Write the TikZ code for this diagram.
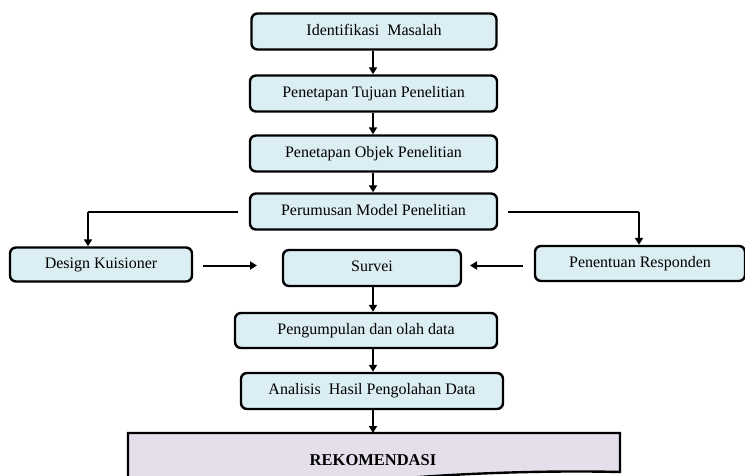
\documentclass[tikz,border=0pt]{standalone}
\usepackage{fontspec}
\setmainfont{Liberation Serif}
\usetikzlibrary{arrows.meta}
\definecolor{boxfill}{HTML}{DAEEF3}
\definecolor{recfill}{HTML}{E5DFEC}
\begin{document}
\begin{tikzpicture}[x=1pt,y=-1pt,
  box/.style={draw=black,line width=2.4pt,rounded corners=6pt,fill=boxfill,
    minimum height=36pt,inner sep=0pt,text height=10.5pt,text depth=3pt,
    font=\fontsize{16}{18}\selectfont},
  arr/.style={line width=2pt,-{Triangle[length=7pt,width=8pt]}},
  ln/.style={line width=2pt}]
\clip (0,0) rectangle (745,476);
\useasboundingbox (0,0) rectangle (745,476);
\node[box,minimum width=245pt] (b1) at (374,31.5) {Identifikasi\ \ Masalah};
\node[box,minimum width=247pt] (b2) at (373.5,93.5) {Penetapan Tujuan Penelitian};
\node[box,minimum width=247pt] (b3) at (373.5,153.5) {Penetapan Objek Penelitian};
\node[box,minimum width=247pt] (b4) at (373.5,211.5) {Perumusan Model Penelitian};
\node[box,minimum width=182pt,minimum height=34pt] (dk) at (101,264.5) {Design Kuisioner};
\node[box,minimum width=178pt] (sv) at (372,268) {Survei};
\node[box,minimum width=210pt,minimum height=35pt] (pr) at (640,263.5) {Penentuan Responden};
\node[box,minimum width=262pt,minimum height=35pt] (pg) at (366,330.5) {Pengumpulan dan olah data};
\node[box,minimum width=262pt] (an) at (372,391) {Analisis\ \ Hasil Pengolahan Data};
\path[draw=black,line width=2.4pt,fill=recfill]
  (128,433) -- (620,433) -- (620,472)
  .. controls (540,470) and (440,474) .. (374,481)
  .. controls (300,488) and (200,492) .. (128,488) -- cycle;
\node[font=\fontsize{16.5}{18}\selectfont\bfseries] (rek) at (373,460) {REKOMENDASI};
\coordinate (rekt) at (373,433);
% vertical chain
\coordinate (c1) at (373,0);
\draw[arr] (b1.south -| c1) -- (b2.north -| c1);
\draw[arr] (b2.south -| c1) -- (b3.north -| c1);
\draw[arr] (b3.south -| c1) -- (b4.north -| c1);
\draw[arr] (sv.south -| c1) -- (pg.north -| c1);
\draw[arr] (pg.south -| c1) -- (an.north -| c1);
\draw[arr] (an.south -| c1) -- (rekt);
% side branches
\coordinate (l1) at (238,212);
\coordinate (l2) at (88,212);
\coordinate (r1) at (508,212);
\coordinate (r2) at (639,212);
\draw[ln] (l1) -- (l2);
\draw[arr] (l2) -- (l2 |- dk.north);
\draw[ln] (r1) -- (r2);
\draw[arr] (r2) -- (r2 |- pr.north);
\coordinate (d1) at (203,265.5);
\coordinate (d2) at (257,265.5);
\draw[arr] (d1) -- (d2);
\coordinate (p1) at (523,265.5);
\coordinate (p2) at (470,265.5);
\draw[arr] (p1) -- (p2);
\end{tikzpicture}
\end{document}
